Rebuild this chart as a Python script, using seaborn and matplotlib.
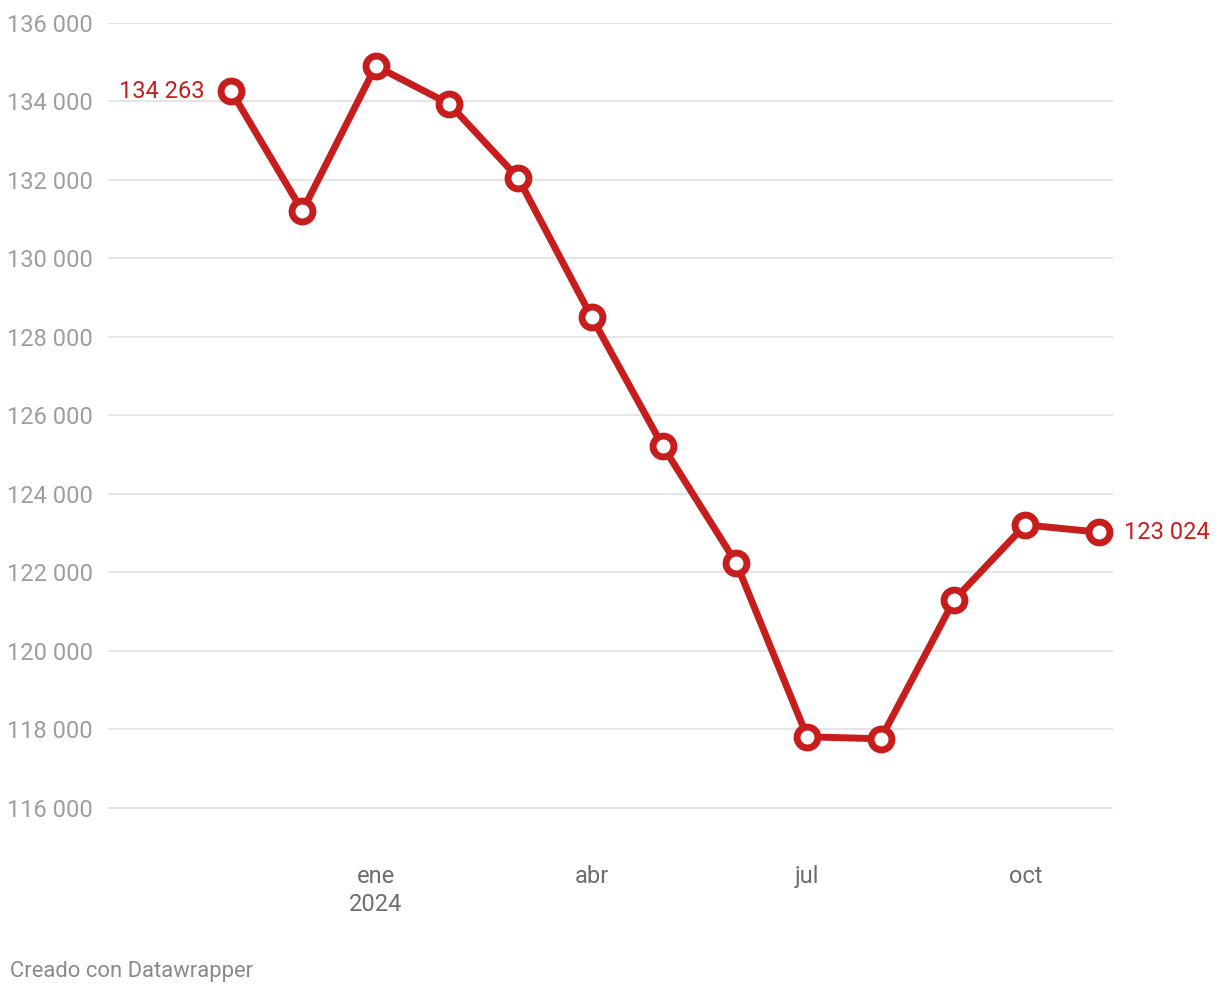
import pandas as pd
import matplotlib
matplotlib.use("Agg")
import matplotlib.pyplot as plt
import matplotlib.ticker as mticker
import seaborn as sns

# monthly values, Nov 2023 .. Nov 2024
months = pd.date_range("2023-11-01", "2024-11-01", freq="MS")
values = [134263, 131210, 134904, 133936, 132051, 128510, 125223,
          122242, 117809, 117758, 121299, 123210, 123024]
month_ticks = ["2024-01-01", "2024-04-01", "2024-07-01", "2024-10-01"]
month_labels = ["ene\n2024", "abr", "jul", "oct"]
y_ticks = list(range(116000, 136001, 2000))

df = pd.DataFrame({"fecha": months, "valor": values})

RED = "#c71e1d"


def fmt(v):
    return f"{int(v):,}".replace(",", " ")


sns.set_theme(style="white")
plt.rcParams["font.family"] = ["Roboto", "DejaVu Sans"]

fig = plt.figure(figsize=(12.2, 9.94), dpi=100)
ax = fig.add_axes([108 / 1220, 1 - 847 / 994, (1113 - 108) / 1220, (847 - 23) / 994])

sns.lineplot(data=df, x="fecha", y="valor", ax=ax, color=RED, linewidth=5,
             marker="o", markersize=15, markerfacecolor="white",
             markeredgecolor=RED, markeredgewidth=5, zorder=3)

ax.set_ylim(115000, 136000)
ax.set_xlim(pd.Timestamp("2023-09-10"), pd.Timestamp("2024-11-07"))
ax.set_yticks(y_ticks)
ax.yaxis.set_major_formatter(mticker.FuncFormatter(lambda v, p: fmt(v)))
ax.set_xticks(pd.to_datetime(month_ticks))
ax.set_xticklabels(month_labels, linespacing=1.3)

ax.grid(axis="y", color="#e3e3e3", linewidth=1.3)
ax.grid(axis="x", visible=False)
for s in ax.spines.values():
    s.set_visible(False)
ax.tick_params(axis="y", length=0, pad=11, labelsize=17, labelcolor="#9e9e9e")
ax.tick_params(axis="x", length=0, pad=13, labelsize=17, labelcolor="#6e6e6e")
ax.set_xlabel("")
ax.set_ylabel("")

# end labels
ax.annotate(fmt(values[0]), (df["fecha"].iloc[0], values[0]),
            xytext=(-19, 0), textcoords="offset points", ha="right", va="center",
            color=RED, fontsize=17)
ax.annotate(fmt(values[-1]), (df["fecha"].iloc[-1], values[-1]),
            xytext=(18, 0), textcoords="offset points", ha="left", va="center",
            color=RED, fontsize=17, annotation_clip=False)

fig.text(10 / 1220, 1 - 971 / 994, "Creado con Datawrapper", ha="left", va="center",
         color="#8a8a8a", fontsize=15.8)

fig.savefig("out.png", dpi=100, facecolor="white")
